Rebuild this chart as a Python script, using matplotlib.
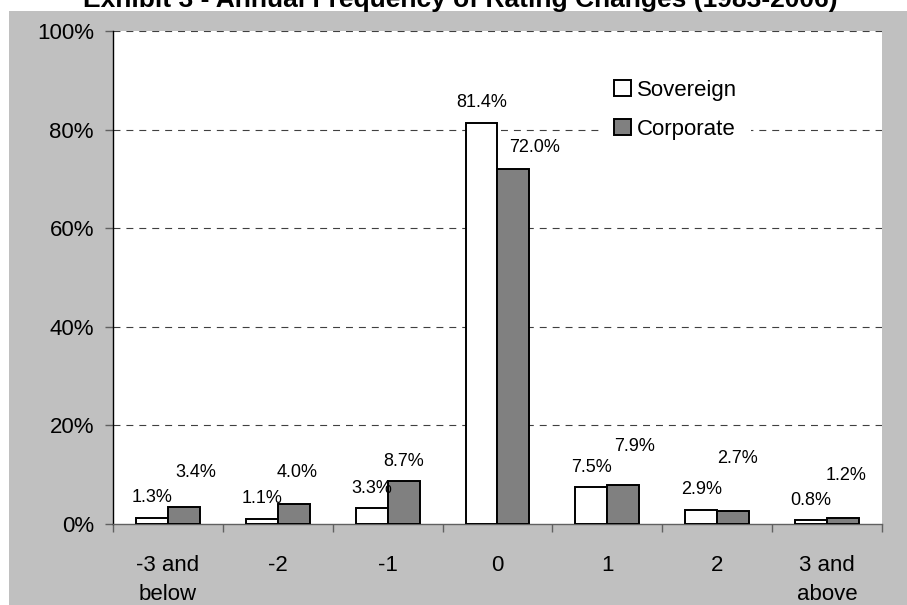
import matplotlib
matplotlib.use("Agg")
import matplotlib.pyplot as plt
from matplotlib.patches import Rectangle
from matplotlib.ticker import FixedLocator, FuncFormatter

plt.rcParams["font.family"] = ["Liberation Sans Narrow", "Liberation Sans", "DejaVu Sans"]
plt.rcParams["lines.scale_dashes"] = False

# ── Data ──────────────────────────────────────────────────────────────
categories = ["-3 and\nbelow", "-2", "-1", "0", "1", "2", "3 and\nabove"]
sovereign  = [1.3, 1.1, 3.3, 81.4, 7.5, 2.9, 0.8]
corporate  = [3.4, 4.0, 8.7, 72.0, 7.9, 2.7, 1.2]
title = "Exhibit 3 - Annual Frequency of Rating Changes (1983-2006)"

# hand-placed label nudges for the corporate series (y in %, x in bar widths)
corp_lift  = [7.1, 6.5, 3.9, 4.3, 7.9, 10.5, 8.6]
corp_shift = [0.11, 0.03, 0.0, 0.19, 0.10, 0.04, 0.03]

W, H = 907, 605
fig = plt.figure(figsize=(W / 100, H / 100), dpi=100, facecolor="#C0C0C0")

# white page strips around the gray chart area
fig.patches.append(Rectangle((0, 1 - 11 / H), 1, 11 / H, transform=fig.transFigure,
                             facecolor="white", edgecolor="none", zorder=0))
fig.patches.append(Rectangle((0, 0), 9 / W, 1, transform=fig.transFigure,
                             facecolor="white", edgecolor="none", zorder=0))

ax = fig.add_axes([113 / W, (H - 524) / H, (882 - 113) / W, (524 - 31) / H])
ax.set_facecolor("white")

x = list(range(len(categories)))
bw = 0.29
ax.bar([i - bw / 2 for i in x], sovereign, width=bw, color="white",
       edgecolor="black", linewidth=1.4, label="Sovereign", zorder=3)
ax.bar([i + bw / 2 for i in x], corporate, width=bw, color="#808080",
       edgecolor="black", linewidth=1.4, label="Corporate", zorder=3)

for i, v in enumerate(sovereign):
    ax.text(i - bw / 2, v + 4.0, f"{v:.1f}%", ha="center", va="center", fontsize=13)
for i, v in enumerate(corporate):
    ax.text(i + bw / 2 + corp_shift[i], v + corp_lift[i], f"{v:.1f}%",
            ha="center", va="center", fontsize=13)

ax.set_xlim(-0.5, len(categories) - 0.5)
ax.set_ylim(0, 100)

ax.set_yticks(range(0, 101, 20))
ax.yaxis.set_major_formatter(FuncFormatter(lambda v, p: f"{v:.0f}%"))
ax.tick_params(axis="y", direction="out", length=8 * 0.72, width=1, color="#606060",
               labelsize=16, pad=8)
for yv in range(20, 101, 20):
    ax.axhline(yv, color="#404040", linewidth=0.8, linestyle=(0, (5, 4.3)), zorder=1)

ax.set_xticks(x)
ax.set_xticklabels(categories, linespacing=1.5)
ax.xaxis.set_minor_locator(FixedLocator([i - 0.5 for i in range(len(categories) + 1)]))
ax.tick_params(axis="x", which="major", length=0, labelsize=16, pad=22)
ax.tick_params(axis="x", which="minor", direction="out", length=8 * 0.72, width=1,
               color="#606060")

for s in ["top", "right"]:
    ax.spines[s].set_visible(False)
ax.spines["left"].set_color("black")
ax.spines["left"].set_linewidth(1.0)
ax.spines["bottom"].set_color("#606060")
ax.spines["bottom"].set_linewidth(1.0)

# white legend box (no border) that breaks the gridline behind it
leg = ax.legend(loc="upper left", bbox_to_anchor=(0.634, 0.928), frameon=True,
                fontsize=16, handlelength=0.75, handleheight=0.75, handletextpad=0.3,
                labelspacing=0.8, borderpad=0.6, borderaxespad=0, fancybox=False)
leg.get_frame().set_facecolor("white")
leg.get_frame().set_edgecolor("none")
leg.get_frame().set_alpha(1)

fig.text(460 / W, 1 - 7.0 / H, title, ha="center", va="baseline",
         fontsize=19, fontweight="bold", family=["Liberation Sans", "DejaVu Sans"])

fig.savefig("out.png", dpi=100, facecolor=fig.get_facecolor())
